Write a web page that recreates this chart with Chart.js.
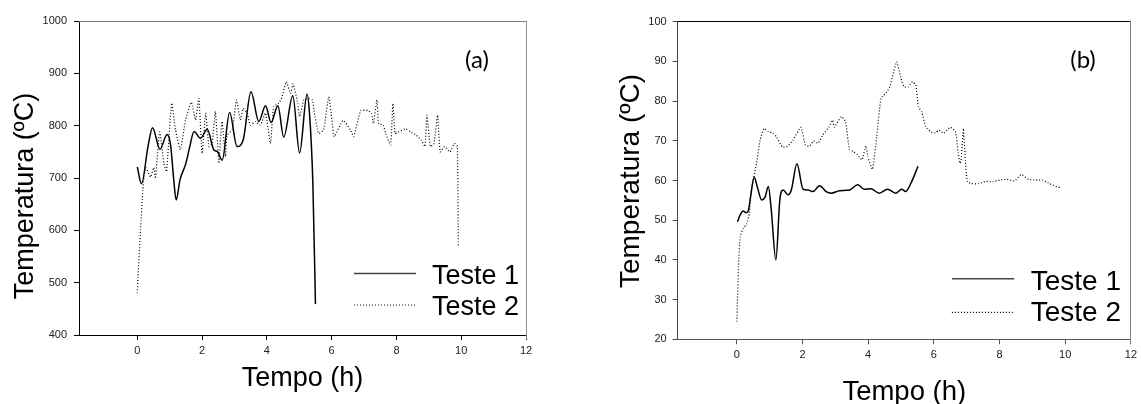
<!DOCTYPE html>
<html><head><meta charset="utf-8">
<script src="https://cdn.jsdelivr.net/npm/chart.js@4.4.1/dist/chart.umd.min.js"></script>
<style>
html,body{margin:0;padding:0;background:#fff;}
#wrap{position:relative;width:1141px;height:404px;overflow:hidden;background:#fff;}
canvas{position:absolute;top:0;}
#ca{left:0;} #cb{left:570px;}
</style></head><body>
<div id="wrap"><canvas id="ca" width="570" height="404"></canvas><canvas id="cb" width="571" height="404"></canvas></div>
<script>
// ---------- data ----------
const seriesNames = ['Teste 1', 'Teste 2'];
const xTitle = 'Tempo (h)';
const yTitle = 'Temperatura (ºC)';
const panelTags = ['(a)', '(b)'];
const xTicks = [0, 2, 4, 6, 8, 10, 12];
const xRange = [-1.8, 12];
const yRangeA = [400, 1000, 100];
const yRangeB = [20, 100, 10];

// panel (a) - [time h, temperature ºC]
const aTeste1 = [[0,721],[0.13,689],[0.33,760],[0.47,796],[0.70,755],[0.92,783],[1.03,762],[1.12,700],[1.20,658],[1.32,697],[1.50,728],[1.62,760],[1.75,789],[1.95,776],[2.16,793],[2.36,754],[2.48,750],[2.62,734],[2.85,825],[3.08,760],[3.27,773],[3.51,865],[3.75,808],[3.96,838],[4.13,806],[4.34,838],[4.52,778],[4.80,857],[5.01,748],[5.24,860],[5.32,820],[5.42,690],[5.50,459]];
const aTeste2 = [[0,480],[0.02,510],[0.10,600],[0.17,677],[0.21,703],[0.26,720],[0.41,702],[0.51,720],[0.56,699],[0.69,788],[0.82,728],[0.90,712],[1.06,843],[1.18,792],[1.33,754],[1.49,811],[1.67,845],[1.80,811],[1.90,852],[2.00,747],[2.11,824],[2.21,760],[2.31,766],[2.41,827],[2.52,728],[2.57,776],[2.62,808],[2.72,741],[2.77,782],[2.93,792],[3.06,849],[3.18,811],[3.27,833],[3.39,824],[3.49,801],[3.65,808],[3.80,801],[3.96,824],[4.11,766],[4.21,836],[4.37,843],[4.47,855],[4.60,884],[4.73,862],[4.81,880],[4.95,843],[5.01,817],[5.14,849],[5.29,852],[5.41,849],[5.45,830],[5.60,785],[5.75,792],[5.91,855],[6.01,811],[6.08,779],[6.35,810],[6.58,792],[6.68,779],[6.90,829],[7.12,829],[7.23,823],[7.29,804],[7.40,849],[7.45,804],[7.59,801],[7.67,785],[7.82,763],[7.89,842],[7.96,785],[8.06,788],[8.28,794],[8.44,788],[8.61,782],[8.77,772],[8.88,760],[8.94,820],[9.05,760],[9.16,766],[9.27,820],[9.35,750],[9.49,760],[9.65,750],[9.79,766],[9.88,760],[9.91,569]];

// panel (b) - [time h, temperature ºC]
const bTeste1 = [[0.02,49.6],[0.10,51.3],[0.20,52.3],[0.28,51.9],[0.35,52.4],[0.42,56.0],[0.53,60.8],[0.62,58.5],[0.76,55.1],[0.86,55.8],[0.96,58.5],[1.05,52.5],[1.19,40.0],[1.31,55.1],[1.41,57.6],[1.56,56.4],[1.66,57.6],[1.83,64.2],[2.02,57.8],[2.17,57.6],[2.32,57.2],[2.52,58.7],[2.72,57.2],[2.87,56.8],[3.13,57.4],[3.43,57.6],[3.68,58.9],[3.88,57.8],[4.08,57.9],[4.34,56.8],[4.59,57.8],[4.84,56.8],[5.02,57.8],[5.14,57.2],[5.30,59.3],[5.52,63.6]];
const bTeste2 = [[0,24.5],[0.05,38.2],[0.10,45.8],[0.20,48.0],[0.30,49.0],[0.38,51.7],[0.45,58.0],[0.60,64.3],[0.71,70.2],[0.83,73.1],[0.96,72.3],[1.09,72.0],[1.21,71.0],[1.39,68.4],[1.56,68.7],[1.71,70.2],[1.95,73.4],[2.09,68.9],[2.22,68.7],[2.34,70.0],[2.47,69.4],[2.62,71.5],[2.80,73.4],[2.92,75.2],[2.97,73.4],[3.18,76.1],[3.31,74.8],[3.43,67.7],[3.53,67.4],[3.68,66.4],[3.81,65.2],[3.93,68.7],[3.99,66.0],[4.13,62.8],[4.26,71.0],[4.39,80.7],[4.54,82.0],[4.66,83.6],[4.74,86.2],[4.87,89.9],[5.00,85.7],[5.09,83.6],[5.22,83.6],[5.35,84.9],[5.45,84.0],[5.53,78.6],[5.63,77.3],[5.75,73.6],[5.90,72.3],[6.05,72.0],[6.15,72.7],[6.30,71.9],[6.50,73.4],[6.66,72.3],[6.74,67.0],[6.80,64.3],[6.84,66.0],[6.90,73.1],[6.96,65.1],[7.02,59.7],[7.15,59.2],[7.36,59.2],[7.58,59.8],[7.80,59.7],[8.01,60.1],[8.23,60.3],[8.45,59.9],[8.66,61.5],[8.88,60.3],[9.10,60.1],[9.31,60.1],[9.53,59.2],[9.75,58.4],[9.88,58.2]];

// ---------- drawing ----------
const FONT = '"Liberation Sans", Arial, Helvetica, sans-serif';
const toXY = arr => arr.map(p => ({x: p[0], y: p[1]}));

const decor = {
  id: 'decor',
  afterDraw(chart, args, o) {
    const ctx = chart.ctx, ca = chart.chartArea;
    ctx.save();
    // frame (top & right)
    ctx.lineWidth = 1;
    const t = Math.floor(ca.top) + 0.5, r = Math.floor(ca.right) + 0.5;
    ctx.strokeStyle = o.topColor;
    ctx.beginPath(); ctx.moveTo(ca.left, t); ctx.lineTo(r, t); ctx.stroke();
    ctx.strokeStyle = o.rightColor;
    ctx.beginPath(); ctx.moveTo(r, ca.top); ctx.lineTo(r, ca.bottom + 4); ctx.stroke();
    // axis titles
    ctx.fillStyle = '#000';
    ctx.textAlign = 'center'; ctx.textBaseline = 'alphabetic';
    ctx.font = o.xTitleSize + 'px ' + FONT;
    ctx.fillText(xTitle, (ca.left + ca.right) / 2, o.xTitleY);
    ctx.save();
    ctx.translate(o.yTitleX, o.yTitleCY);
    ctx.rotate(-Math.PI / 2);
    ctx.font = o.yTitleSize + 'px ' + FONT;
    ctx.fillText(yTitle, 0, 0);
    ctx.restore();
    // panel tag
    ctx.font = o.tagSize + 'px Lato, "Open Sans", sans-serif';
    ctx.textBaseline = 'middle';
    ctx.fillText(o.tag, o.tagX, o.tagY);
    // legend
    chart.data.datasets.forEach((ds, i) => {
      const row = o.legRows[i];
      const ly = ca.bottom - row[0];
      ctx.strokeStyle = i === 0 ? o.legSolidColor : ds.borderColor;
      ctx.lineWidth = ds.borderWidth;
      ctx.setLineDash(ds.borderDash || []);
      ctx.beginPath();
      ctx.moveTo(ca.right - o.legLine[0], ly); ctx.lineTo(ca.right - o.legLine[1], ly);
      ctx.stroke();
      ctx.setLineDash([]);
      ctx.font = o.legSize + 'px ' + FONT;
      ctx.textAlign = 'left'; ctx.textBaseline = 'alphabetic';
      ctx.fillStyle = '#000';
      ctx.fillText(ds.label, ca.right - o.legText, ca.bottom - row[1]);
    });
    ctx.restore();
  }
};

function makeChart(id, c) {
  return new Chart(document.getElementById(id), {
    type: 'line',
    data: {
      datasets: [
        {label: seriesNames[0], data: toXY(c.s1), borderColor: '#000', borderWidth: 1.5,
         pointRadius: 0, cubicInterpolationMode: 'monotone', fill: false},
        {label: seriesNames[1], data: toXY(c.s2), borderColor: '#000', borderWidth: 1.2,
         borderDash: [1, 2], pointRadius: 0, tension: 0.15, fill: false}
      ]
    },
    options: {
      responsive: false, animation: false, devicePixelRatio: 1,
      layout: {padding: {left: 0, top: c.padTop, right: c.padRight, bottom: 0}},
      plugins: {legend: {display: false}, tooltip: {enabled: false}, decor: c.decor},
      scales: {
        x: {
          type: 'linear', min: xRange[0], max: xRange[1],
          afterBuildTicks: s => { s.ticks = xTicks.map(v => ({value: v})); },
          afterFit: s => { s.height = c.xH; },
          ticks: {font: {family: FONT, size: 11}, color: '#222', padding: 4, maxRotation: 0, autoSkip: false,
                  callback: v => String(v)},
          grid: {drawOnChartArea: false, drawTicks: true, tickLength: 5, color: c.xColor},
          border: {display: true, color: c.xColor, width: 1}
        },
        y: {
          min: c.y[0], max: c.y[1],
          afterFit: s => { s.width = c.yW; },
          ticks: {stepSize: c.y[2], font: {family: FONT, size: 11}, color: '#222', padding: c.yPad,
                  callback: v => String(v)},
          grid: {drawOnChartArea: false, drawTicks: true, tickLength: 5, color: c.yColor},
          border: {display: true, color: c.yColor, width: 1}
        }
      }
    },
    plugins: [decor]
  });
}

makeChart('ca', {
  s1: aTeste1, s2: aTeste2, y: yRangeA,
  padTop: 21, padRight: 44, yW: 79, xH: 69, yPad: 7,
  xColor: '#000', yColor: '#000',
  decor: {topColor: '#808080', rightColor: '#909090',
    xTitleSize: 27, xTitleY: 386, yTitleSize: 27, yTitleX: 33, yTitleCY: 196,
    tag: panelTags[0], tagSize: 24, tagX: 477, tagY: 60,
    legSize: 27, legLine: [172, 110], legText: 94, legSolidColor: '#444',
    legRows: [[61.6, 51], [30, 20]]}
});
makeChart('cb', {
  s1: bTeste1, s2: bTeste2, y: yRangeB,
  padTop: 21.7, padRight: 7.7, yW: 107.7, xH: 64.7, yPad: 6,
  xColor: '#555', yColor: '#444',
  decor: {topColor: '#000', rightColor: '#808080',
    xTitleSize: 27.5, xTitleY: 399.5, yTitleSize: 28, yTitleX: 69, yTitleCY: 181,
    tag: panelTags[1], tagSize: 24, tagX: 513, tagY: 60,
    legSize: 28, legLine: [179, 116.6], legText: 100.2, legSolidColor: '#444',
    legRows: [[60.6, 49.6], [26.9, 18.3]]}
});
</script>
</body></html>
